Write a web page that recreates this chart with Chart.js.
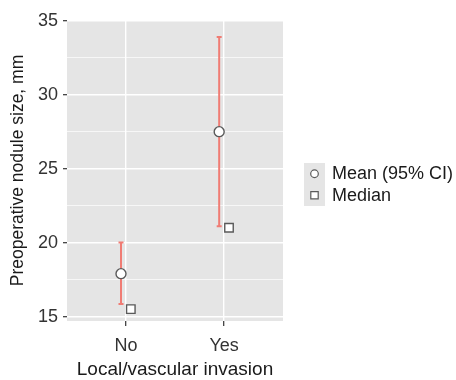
<!DOCTYPE html>
<html lang="en">
<head>
<meta charset="UTF-8" />
<title>Preoperative nodule size by local/vascular invasion</title>
<script src="https://cdn.jsdelivr.net/npm/chart.js"></script>
<style>
  html, body { margin: 0; padding: 0; background: #fff; }
  #wrap { width: 456px; height: 380px; }
</style>
</head>
<body>
<div id="wrap"><canvas id="chart" width="456" height="380"></canvas></div>
<script>
  // data
  const categories = ['No', 'Yes'];
  const meanValues = [17.9, 27.5];
  const ciLower = [15.85, 21.1];
  const ciUpper = [20.0, 33.9];
  const medianValues = [15.5, 21.0];
  const yTicks = [15, 17.5, 20, 22.5, 25, 27.5, 30, 32.5, 35];
  const legendLabels = ['Mean (95% CI)', 'Median'];

  const FONT = "'Liberation Sans', Arial, sans-serif";
  const PANEL = '#E5E5E5';
  const ERR = '#F07C74';
  const PT_BORDER = '#5a5a5a';
  const dodge = 0.05;

  // grey panel behind the plot
  const panelBg = {
    id: 'panelBg',
    beforeDraw(chart) {
      const { ctx, chartArea: a } = chart;
      ctx.save();
      ctx.fillStyle = PANEL;
      ctx.fillRect(a.left, a.top, a.right - a.left, a.bottom - a.top);
      ctx.restore();
    }
  };

  // 95% CI error bars, drawn under the points
  const errorBars = {
    id: 'errorBars',
    beforeDatasetsDraw(chart) {
      const { ctx, scales: { x, y } } = chart;
      ctx.save();
      ctx.strokeStyle = ERR;
      ctx.lineWidth = 2;
      categories.forEach((c, i) => {
        const px = x.getPixelForValue(i + 1 - dodge);
        const top = y.getPixelForValue(ciUpper[i]);
        const bot = y.getPixelForValue(ciLower[i]);
        ctx.beginPath();
        ctx.moveTo(px, top); ctx.lineTo(px, bot);
        ctx.moveTo(px - 2.5, top); ctx.lineTo(px + 2.5, top);
        ctx.moveTo(px - 2.5, bot); ctx.lineTo(px + 2.5, bot);
        ctx.stroke();
      });
      ctx.restore();
    }
  };

  // ggplot-style legend on the right
  const sideLegend = {
    id: 'sideLegend',
    afterDraw(chart) {
      const { ctx } = chart;
      const kx = 304, ky = 163, kw = 21, kh = 21.5;
      ctx.save();
      ctx.fillStyle = PANEL;
      ctx.fillRect(kx, ky, kw, kh * 2);
      const cx = kx + kw / 2;
      ctx.fillStyle = '#fff';
      ctx.strokeStyle = PT_BORDER;
      ctx.lineWidth = 1.2;
      ctx.beginPath();
      ctx.arc(cx, ky + kh / 2, 3.8, 0, Math.PI * 2);
      ctx.fill(); ctx.stroke();
      ctx.beginPath();
      ctx.rect(cx - 3.7, ky + kh * 1.5 - 3.7, 7.4, 7.4);
      ctx.fill(); ctx.stroke();
      ctx.fillStyle = '#1a1a1a';
      ctx.font = '18px ' + FONT;
      ctx.textBaseline = 'middle';
      ctx.textAlign = 'left';
      legendLabels.forEach((t, i) => {
        ctx.fillText(t, 332, ky + kh * (i + 0.5) + 0.5);
      });
      ctx.restore();
    }
  };

  new Chart(document.getElementById('chart'), {
    type: 'scatter',
    data: {
      datasets: [
        {
          label: legendLabels[0],
          data: meanValues.map((v, i) => ({ x: i + 1 - dodge, y: v })),
          pointStyle: 'circle',
          pointRadius: 5,
          pointBackgroundColor: '#fff',
          pointBorderColor: PT_BORDER,
          pointBorderWidth: 1.4
        },
        {
          label: legendLabels[1],
          data: medianValues.map((v, i) => ({ x: i + 1 + dodge, y: v })),
          pointStyle: 'rect',
          pointRadius: 6,
          pointBackgroundColor: '#fff',
          pointBorderColor: PT_BORDER,
          pointBorderWidth: 1.4
        }
      ]
    },
    options: {
      responsive: false,
      animation: false,
      layout: { padding: { top: 20, right: 173, left: 0, bottom: 0 } },
      plugins: { legend: { display: false }, tooltip: { enabled: false } },
      scales: {
        x: {
          type: 'linear',
          min: 0.4,
          max: 2.6,
          afterBuildTicks: s => { s.ticks = categories.map((c, i) => ({ value: i + 1 })); },
          afterFit: s => { s.height = 59; },
          border: { display: false },
          grid: { color: '#fff', lineWidth: 1.4, tickColor: '#333', tickLength: 5, tickWidth: 1.2 },
          ticks: {
            padding: 9,
            color: '#333',
            font: { family: FONT, size: 18 },
            callback: (v, i) => categories[i]
          },
          title: {
            display: true,
            text: 'Local/vascular invasion',
            color: '#1a1a1a',
            font: { family: FONT, size: 19, lineHeight: 1 },
            padding: { top: 0, bottom: 1 }
          }
        },
        y: {
          min: 14.7,
          max: 35.05,
          afterBuildTicks: s => { s.ticks = yTicks.map(v => ({ value: v })); },
          afterFit: s => { s.width = 67; },
          border: { display: false },
          grid: {
            color: '#fff',
            lineWidth: c => (c.tick && c.tick.value % 5 === 0 ? 1.4 : 0.7),
            tickColor: c => (c.tick && c.tick.value % 5 === 0 ? '#333' : 'rgba(0,0,0,0)'),
            tickLength: 4,
            tickWidth: 1.2
          },
          ticks: {
            padding: 5,
            color: '#333',
            font: { family: FONT, size: 18 },
            callback: v => (v % 5 === 0 ? String(v) : '')
          },
          title: {
            display: true,
            text: 'Preoperative nodule size, mm',
            color: '#1a1a1a',
            font: { family: FONT, size: 17.5, lineHeight: 1 },
            padding: { top: 9, bottom: 0 }
          }
        }
      }
    },
    plugins: [panelBg, errorBars, sideLegend]
  });
</script>
</body>
</html>
